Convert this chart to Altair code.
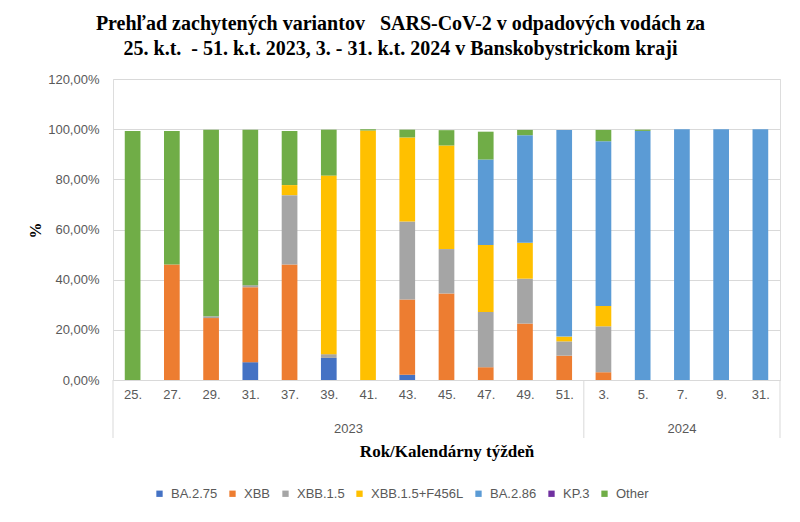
import altair as alt
import pandas as pd

weeks = ["25.", "27.", "29.", "31.", "37.", "39.", "41.", "43.", "45.", "47.", "49.", "51.",
         "3.", "5.", "7.", "9.", "31."]
years = ["2023"] * 12 + ["2024"] * 5

series = ["BA.2.75", "XBB", "XBB.1.5", "XBB.1.5+F456L", "BA.2.86", "KP.3", "Other"]
colors = ["#4472C4", "#ED7D31", "#A5A5A5", "#FFC000", "#5B9BD5", "#7030A0", "#70AD47"]

ba275 = [0, 0, 0, 7.1, 0, 8.8, 0, 2.1, 0, 0, 0, 0, 0, 0, 0, 0, 0]
xbb = [0, 46.0, 24.7, 29.9, 46.0, 0, 0, 30.0, 34.5, 5.1, 22.5, 9.7, 3.1, 0, 0, 0, 0]
xbb15 = [0, 0, 0.7, 0.8, 27.7, 1.5, 0, 31.1, 17.7, 22.0, 17.9, 5.7, 18.3, 0, 0, 0, 0]
xbb15f = [0, 0, 0, 0, 4.0, 71.2, 99.5, 33.5, 41.3, 26.7, 14.3, 1.9, 8.1, 0, 0, 0, 0]
ba286 = [0, 0, 0, 0, 0, 0, 0, 0, 0, 34.1, 42.9, 82.4, 65.7, 99.3, 100, 100, 100]
kp3 = [0] * 17
other = [99.3, 53.3, 74.4, 62.0, 21.6, 18.3, 0.5, 3.1, 6.1, 11.1, 2.1, 0, 4.5, 0.5, 0, 0, 0]

values = [ba275, xbb, xbb15, xbb15f, ba286, kp3, other]

rows = []
for s_i, (name, vals) in enumerate(zip(series, values)):
    for i, v in enumerate(vals):
        rows.append({"variant": name, "order": s_i, "idx": i, "value": v})
df = pd.DataFrame(rows)

# year groups
year_rows = []
bounds = [-0.5]
for y in dict.fromkeys(years):
    idxs = [i for i, yy in enumerate(years) if yy == y]
    year_rows.append({"year": y, "pos": (idxs[0] + idxs[-1]) / 2})
    bounds.append(idxs[-1] + 0.5)
ydf = pd.DataFrame(year_rows)
bdf = pd.DataFrame({"b": bounds})

W, H = 667, 301
xscale = alt.Scale(domain=[-0.5, len(weeks) - 0.5], nice=False, zero=False, padding=0)
week_expr = "[" + ",".join("'" + w + "'" for w in weeks) + "][datum.value]"

bars = alt.Chart(df).mark_bar(size=15.7).encode(
    x=alt.X("idx:Q", scale=xscale,
            axis=alt.Axis(values=list(range(len(weeks))), labelExpr=week_expr,
                          grid=False, ticks=False, domainColor="#d9d9d9",
                          labelPadding=8, labelFontSize=13, labelColor="#595959",
                          labelFont="Liberation Sans",
                          title="Rok/Kalendárny týždeň", titleFont="Liberation Serif",
                          titleFontSize=17, titleFontWeight="bold", titleColor="black",
                          titleX=W / 2, titleY=71, titleAlign="center",
                          titleBaseline="middle")),
    y=alt.Y("value:Q", stack="zero",
            scale=alt.Scale(domain=[0, 120], nice=False),
            axis=alt.Axis(values=[0, 20, 40, 60, 80, 100, 120],
                          labelExpr="replace(format(datum.value, '.2f'), '.', ',') + '%'",
                          domain=False, ticks=False, gridColor="#d9d9d9",
                          labelPadding=14, labelFontSize=13, labelColor="#595959",
                          labelFont="Liberation Sans",
                          title="%", titleFont="Liberation Serif", titleFontSize=16,
                          titleFontWeight="bold", titleColor="black",
                          titleX=-78, titleY=151, titleAlign="center",
                          titleBaseline="middle")),
    color=alt.Color("variant:N", scale=alt.Scale(domain=series, range=colors),
                    legend=alt.Legend(title=None, orient="none", legendX=40, legendY=408,
                                      direction="horizontal", columns=7,
                                      symbolType="square", symbolSize=40,
                                      symbolStrokeWidth=0, labelFontSize=13,
                                      labelColor="#595959", labelFont="Liberation Sans",
                                      columnPadding=8, labelOffset=5)),
    order=alt.Order("order:Q"),
)

rules = alt.Chart(bdf).mark_rule(color="#d9d9d9", strokeWidth=1).encode(
    x=alt.X("b:Q", scale=xscale),
    y=alt.value(H),
    y2=alt.value(H + 58),
)

ytext = alt.Chart(ydf).mark_text(fontSize=13, color="#595959", font="Liberation Sans",
                                 baseline="middle").encode(
    x=alt.X("pos:Q", scale=xscale),
    y=alt.value(H + 49),
    text="year:N",
)

chart = alt.layer(bars, rules, ytext).properties(
    width=W, height=H,
    autosize="none",
    padding={"left": 105, "top": 71, "right": 12, "bottom": 134},
    title=alt.TitleParams(
        text=["Prehľad zachytených variantov \u00a0 SARS-CoV-2 v odpadových vodách za",
              "25. k.t. \u00a0- 51. k.t. 2023, 3. - 31. k.t. 2024 v Banskobystrickom kraji"],
        font="Liberation Serif", fontSize=20, fontWeight="bold", color="black",
        anchor="middle", frame="group", dx=-46, offset=14, lineHeight=25),
).configure_view(stroke=None).configure(background="white")

chart.save("out.html", embed_options={"renderer": "svg", "actions": False})
